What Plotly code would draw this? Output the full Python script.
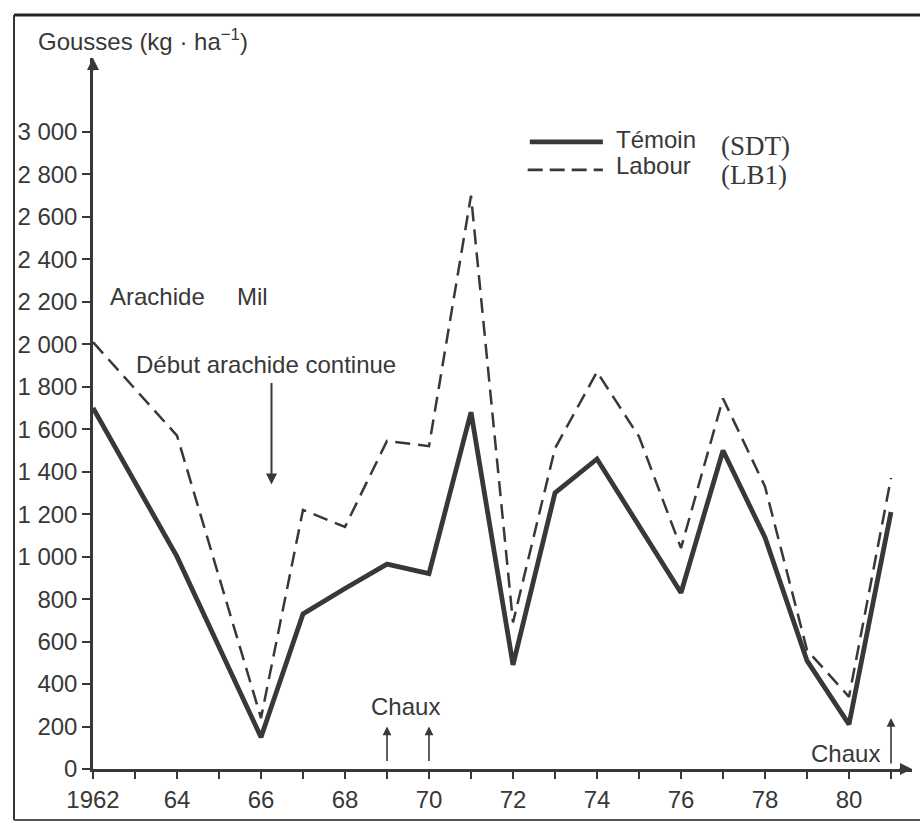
import plotly.graph_objects as go

# Annual pod yield (kg/ha), groundnut trial 1962-1981
years = [1962, 1964, 1966, 1967, 1968, 1969, 1970, 1971, 1972, 1973,
         1974, 1975, 1976, 1977, 1978, 1979, 1980, 1981]
temoin = [1700, 1000, 150, 730, 850, 965, 920, 1680, 490, 1300,
          1460, 1150, 830, 1500, 1090, 510, 210, 1210]
labour = [2010, 1570, 240, 1220, 1140, 1545, 1520, 2700, 690, 1510,
          1870, 1565, 1040, 1745, 1330, 560, 340, 1370]

x_ticks = list(range(1962, 1982))
x_labels = ["1962" if y == 1962 else (str(y)[2:] if y % 2 == 0 else "") for y in x_ticks]
y_ticks = list(range(0, 3001, 200))
y_labels = [f"{v:,}".replace(",", " ") for v in y_ticks]

# liming years
chaux_years = [1969, 1970]
chaux_late = 1981

INK = "#383838"
FONT = "Liberation Sans"
SERIF = "Liberation Serif"
FS = 24

W, H = 920, 823
L, R, T, B = 93, 912, 58, 769
X0 = 1962
PX_PER_YEAR = 42.0
Y_MAX = 3348.0


def px_x(px):
    return (px - L) / (R - L)


def px_y(py):
    return (B - py) / (B - T)


fig = go.Figure()
fig.add_trace(go.Scatter(x=years, y=temoin, mode="lines", name="Témoin",
                         line=dict(color=INK, width=4.8)))
fig.add_trace(go.Scatter(x=years, y=labour, mode="lines", name="Labour",
                         line=dict(color=INK, width=2.5, dash="15px,8px")))

ann = []


def text(x, y, s, xanchor="left", font=FONT, size=FS, xref="x", yref="y"):
    ann.append(dict(x=x, y=y, xref=xref, yref=yref, text=s, showarrow=False,
                    xanchor=xanchor, yanchor="middle",
                    font=dict(family=font, size=size, color=INK)))


def arrow(x, y, ax, ay, xref="x", yref="y", width=1.6, size=1.2, head=2):
    ann.append(dict(x=x, y=y, xref=xref, yref=yref, ax=ax, ay=ay, text="",
                    showarrow=True, arrowhead=head, arrowsize=size,
                    arrowwidth=width, arrowcolor=INK, standoff=0))


# axis title
text(px_x(36), px_y(40), "Gousses (kg · ha<sup>−1</sup>)", xref="paper", yref="paper")
# axis arrows
arrow(1, 0, -14, 0, xref="paper", yref="y", width=2, size=1.2)
arrow(X0, 1, 0, 14, xref="x", yref="paper", width=2, size=1.2)

# crop labels
text(1962.36, 2223, "Arachide")
text(1965.38, 2223, "Mil")
text(1962.98, 1907, "Début arachide continue")
arrow(1966.25, 1340, 0, -103, width=2, size=1.1)

# liming arrows
text(1969.43, 292, "Chaux", xanchor="center")
for cy in chaux_years:
    arrow(cy, 200, 0, 36, width=1.6, size=1.1)
text(1980.79, 75, "Chaux", xanchor="right")
arrow(chaux_late, 240, 0, 47, width=1.6, size=1.1)

# legend
text(1974.40, 2962, "Témoin")
text(1974.40, 2844, "Labour")
text(1976.90, 2934, "(SDT)", font=SERIF, size=27)
text(1976.90, 2797, "(LB1)", font=SERIF, size=27)

shapes = [
    dict(type="line", xref="x", yref="y", x0=1972.40, x1=1974.14, y0=2953, y1=2953,
         line=dict(color=INK, width=4.8)),
    dict(type="line", xref="x", yref="y", x0=1972.35, x1=1974.14, y0=2821, y1=2821,
         line=dict(color=INK, width=2.6, dash="15px,7px")),
    # page frame
    dict(type="line", xref="paper", yref="paper", x0=px_x(14), x1=px_x(920),
         y0=px_y(15), y1=px_y(15), line=dict(color="#222", width=3)),
    dict(type="line", xref="paper", yref="paper", x0=px_x(14), x1=px_x(14),
         y0=px_y(15), y1=px_y(820), line=dict(color="#333", width=2)),
    dict(type="line", xref="paper", yref="paper", x0=px_x(14), x1=px_x(920),
         y0=px_y(820), y1=px_y(820), line=dict(color="#555", width=2)),
]

fig.update_layout(
    width=W, height=H,
    margin=dict(l=L, r=W - R, t=T, b=H - B, pad=0),
    paper_bgcolor="white", plot_bgcolor="white",
    showlegend=False,
    annotations=ann, shapes=shapes,
    font=dict(family=FONT, size=FS, color=INK),
    xaxis=dict(range=[X0, X0 + (R - L) / PX_PER_YEAR], showgrid=False, zeroline=False,
               showline=True, linecolor=INK, linewidth=2.5,
               tickmode="array", tickvals=x_ticks, ticktext=x_labels,
               ticks="outside", ticklen=7, tickwidth=2, tickcolor=INK,
               tickfont=dict(family=FONT, size=FS, color=INK)),
    yaxis=dict(range=[0, Y_MAX], showgrid=False, zeroline=False,
               showline=True, linecolor=INK, linewidth=2.5,
               tickmode="array", tickvals=y_ticks, ticktext=y_labels,
               ticks="outside", ticklen=8, tickwidth=2, tickcolor=INK,
               tickfont=dict(family=FONT, size=FS, color=INK)),
)

fig.write_html("out.html")
